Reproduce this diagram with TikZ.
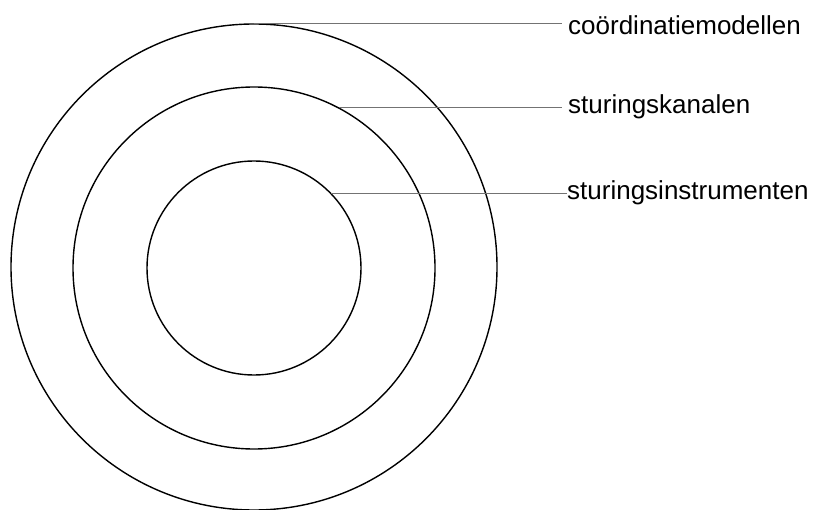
\documentclass[tikz,border=0pt]{standalone}
\usepackage{fontspec}
\setmainfont{Liberation Sans}
\usetikzlibrary{positioning}

\tikzset{
    ring/.style={draw, circle, inner sep=0pt, line width=1.4pt},
    lbl/.style={anchor=west, inner sep=6pt, font=\fontsize{26}{30}\selectfont},
    lead/.style={draw=black!55, line width=1.1pt}
}

\begin{document}
\begin{tikzpicture}[x=1pt, y=-1pt]
    \useasboundingbox (0, 0) rectangle (813, 510);

    \node[ring, minimum size=486pt] (outer) at (254, 267) {};
    \node[ring, minimum size=362pt] (middle) at (254, 268) {};
    \node[ring, minimum size=214pt] (inner) at (254, 268) {};

    \node[lbl] (modellen) at (562, 25) {coördinatiemodellen};
    \node[lbl] (kanalen) at (562, 107) {sturingskanalen};
    \node[lbl] (instrumenten) at (561, 193) {sturingsinstrumenten};

    \draw[lead] (outer.north) -- (outer.north -| modellen.west);
    \draw[lead] (middle.62.7) -- (middle.62.7 -| kanalen.west);
    \draw[lead] (inner.44.6) -- (inner.44.6 -| instrumenten.text);
\end{tikzpicture}
\end{document}
